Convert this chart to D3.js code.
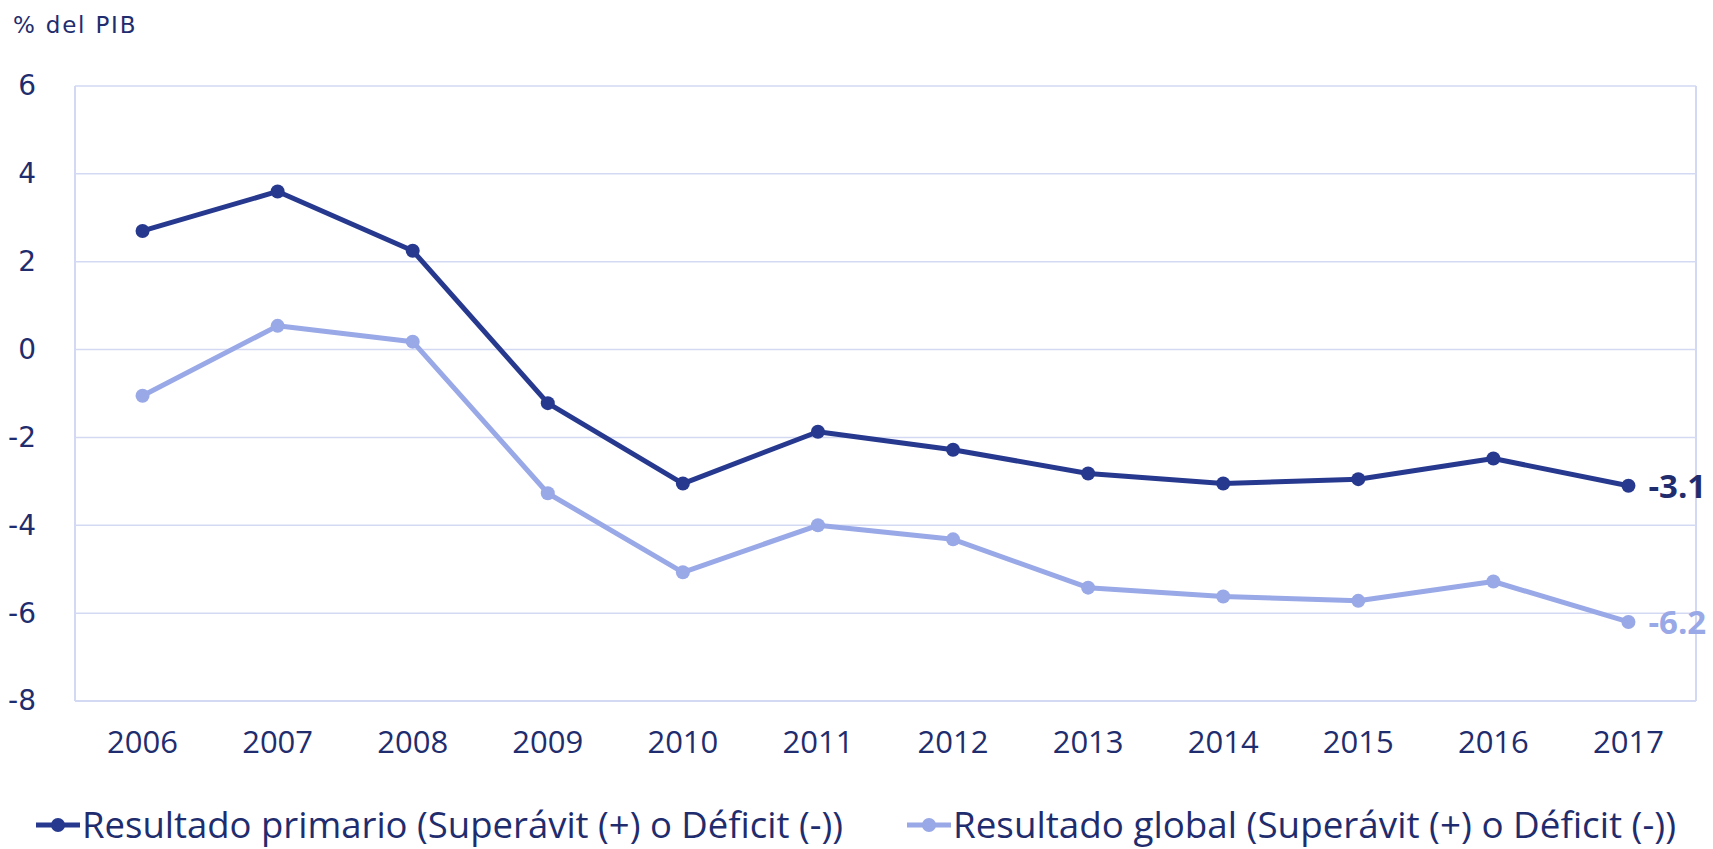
<!DOCTYPE html>
<html lang="es">
<head>
<meta charset="utf-8">
<script src="https://d3js.org/d3.v7.min.js"></script>
<style type="text/css">
body { margin: 0; background: #fff; }
text { fill: #1f2d6e; }
</style>
</head>
<body>
<script type="text/javascript">

// data
var years = ["2006", "2007", "2008", "2009", "2010", "2011", "2012", "2013", "2014", "2015", "2016", "2017"];
var primario = [2.7, 3.6, 2.25, -1.22, -3.05, -1.87, -2.28, -2.82, -3.05, -2.95, -2.48, -3.1];
var global = [-1.05, 0.54, 0.18, -3.27, -5.07, -4.0, -4.32, -5.42, -5.62, -5.72, -5.28, -6.2];
var yTicks = [6, 4, 2, 0, -2, -4, -6, -8];
var seriesNames = ["Resultado primario (Superávit (+) o Déficit (-))", "Resultado global (Superávit (+) o Déficit (-))"];
var seriesColors = ["#26398f", "#99a8e6"];

var width = 1713, height = 849;
// plot area edges (avoid the global name "top")
var plotLeft = 75, plotRight = 1696, plotTop = 86, plotBottom = 701;

// plain hyphen instead of d3's unicode minus
function fmt(v, spec) { return d3.format(spec)(v).replace("\u2212", "-"); }

var svg = d3.select("body").append("svg")
	.attr("width", width)
	.attr("height", height);

var x = d3.scaleBand().domain(years).range([plotLeft, plotRight]);
var y = d3.scaleLinear().domain([-8, 6]).range([plotBottom, plotTop]);

// gridlines
svg.append("g")
	.selectAll("line")
	.data(yTicks)
	.enter().append("line")
	.attr("x1", plotLeft).attr("x2", plotRight)
	.attr("y1", function(d) { return y(d); })
	.attr("y2", function(d) { return y(d); })
	.style("stroke", "#d3d9f3")
	.style("stroke-width", 1.5);

// plot frame sides
svg.append("line").attr("x1", plotLeft).attr("x2", plotLeft).attr("y1", plotTop).attr("y2", plotBottom)
	.style("stroke", "#d3d9f3").style("stroke-width", 2);
svg.append("line").attr("x1", plotRight).attr("x2", plotRight).attr("y1", plotTop).attr("y2", plotBottom)
	.style("stroke", "#d3d9f3").style("stroke-width", 2);
svg.append("line").attr("x1", plotLeft).attr("x2", plotRight).attr("y1", plotBottom).attr("y2", plotBottom)
	.style("stroke", "#d3d9f3").style("stroke-width", 2);

// y axis labels
var yAxis = d3.axisLeft(y).tickValues(yTicks).tickSize(0).tickPadding(39)
	.tickFormat(function(d) { return fmt(d, "d"); });
svg.append("g")
	.attr("transform", "translate(" + plotLeft + ",0)")
	.call(yAxis)
	.call(function(g) { g.select(".domain").remove(); })
	.selectAll("text")
	.style("font-family", "'DejaVu Sans', Verdana, sans-serif")
	.style("font-size", "28px")
	.style("fill", "#1f2d6e");

// x axis labels
var xAxis = d3.axisBottom(x).tickSize(0).tickPadding(30);
svg.append("g")
	.attr("transform", "translate(0," + plotBottom + ")")
	.call(xAxis)
	.call(function(g) { g.select(".domain").remove(); })
	.selectAll("text")
	.style("font-family", "'Open Sans', sans-serif")
	.style("font-size", "31px")
	.style("fill", "#1f2d6e");

// title
svg.append("text")
	.attr("x", 13)
	.attr("y", 33)
	.style("font-family", "'DejaVu Sans', Verdana, sans-serif")
	.style("font-size", "23px")
	.style("letter-spacing", "1.8px")
	.text("% del PIB");

var line = d3.line()
	.x(function(d, i) { return x(years[i]) + x.bandwidth() / 2; })
	.y(function(d) { return y(d); });

[primario, global].forEach(function(vals, k) {
	svg.append("path")
		.datum(vals)
		.attr("d", line)
		.style("fill", "none")
		.style("stroke", seriesColors[k])
		.style("stroke-width", 5)
		.style("stroke-linejoin", "round");

	svg.append("g")
		.selectAll("circle")
		.data(vals)
		.enter().append("circle")
		.attr("cx", function(d, i) { return x(years[i]) + x.bandwidth() / 2; })
		.attr("cy", function(d) { return y(d); })
		.attr("r", 7)
		.style("fill", seriesColors[k]);

	// end label
	var last = vals.length - 1;
	svg.append("text")
		.attr("x", x(years[last]) + x.bandwidth() / 2 + 20)
		.attr("y", y(vals[last]))
		.attr("dy", "0.36em")
		.style("font-family", "'Open Sans', sans-serif")
		.style("font-weight", "bold")
		.style("font-size", "33px")
		.style("fill", k == 0 ? "#1f2d6e" : seriesColors[k])
		.text(fmt(vals[last], ".1f"));
});

// legend
var legendX = [36, 907];
var legendW = [761, 723];
seriesNames.forEach(function(name, k) {
	var g = svg.append("g").attr("transform", "translate(" + legendX[k] + ",825)");
	g.append("line").attr("x1", 0).attr("x2", 44).attr("y1", 0).attr("y2", 0)
		.style("stroke", seriesColors[k]).style("stroke-width", 5);
	g.append("circle").attr("cx", 22).attr("cy", 0).attr("r", 7).style("fill", seriesColors[k]);
	g.append("text")
		.attr("x", 46)
		.attr("y", 0)
		.attr("dy", "0.35em")
		.attr("textLength", legendW[k])
		.attr("lengthAdjust", "spacingAndGlyphs")
		.style("font-family", "'Open Sans', sans-serif")
		.style("font-size", "36px")
		.text(name);
});

</script>
</body>
</html>
